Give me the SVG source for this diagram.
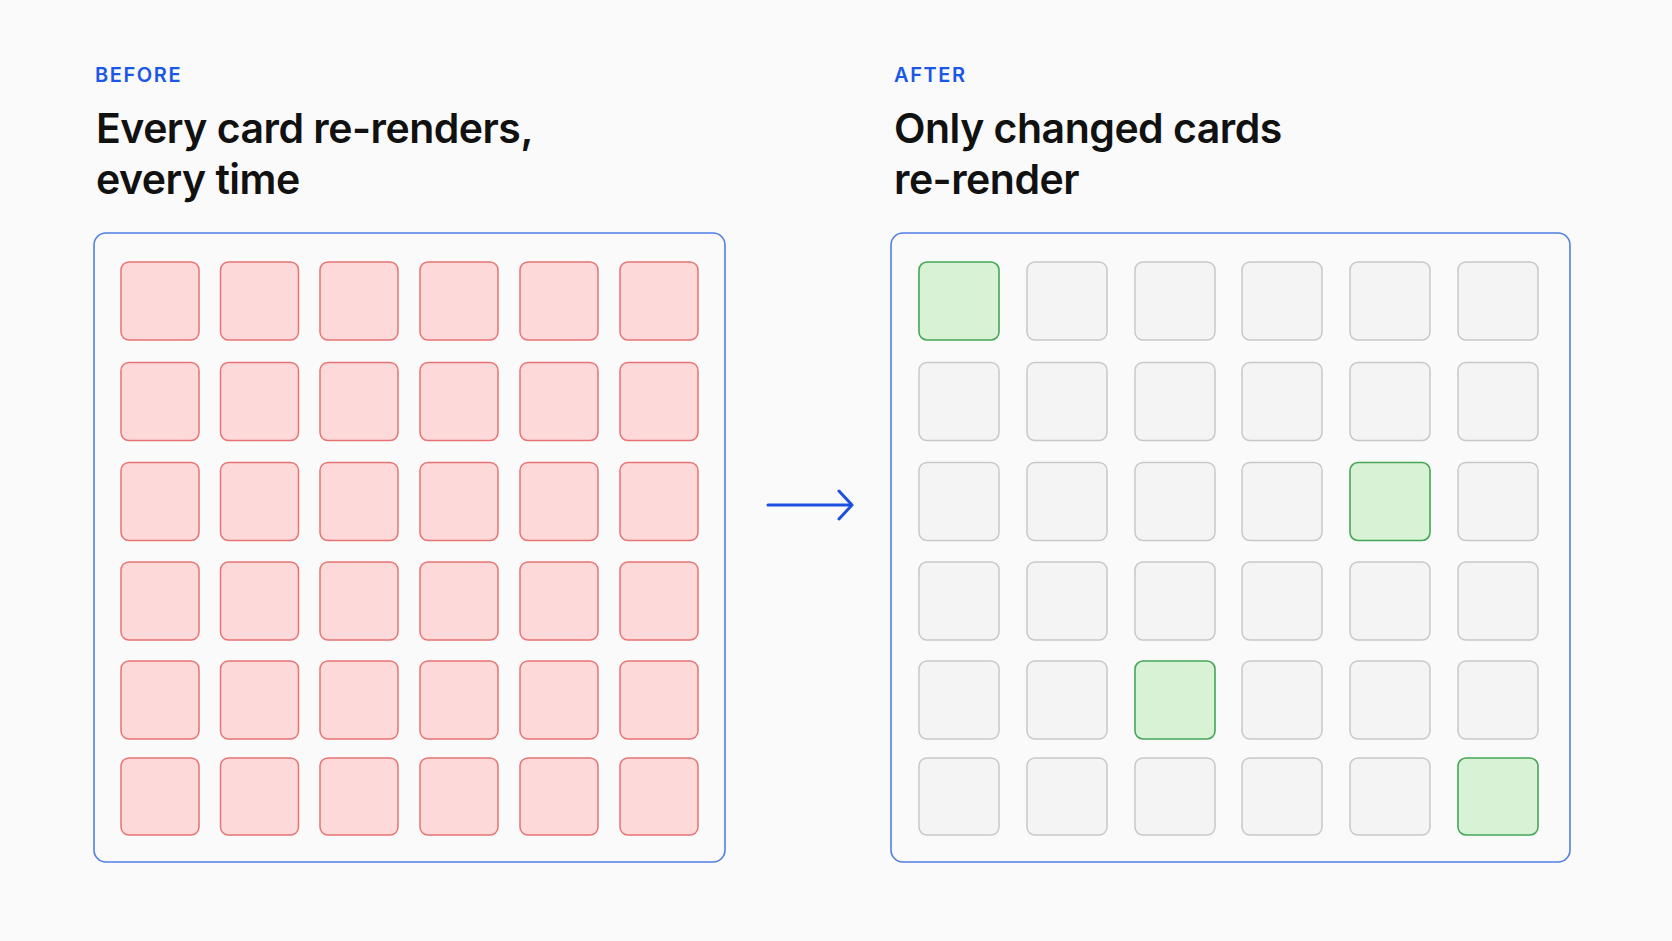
<svg xmlns="http://www.w3.org/2000/svg" width="1672" height="941" viewBox="0 0 1672 941">
<style>
.lbl{font-family:Inter,"Liberation Sans",sans-serif;font-size:20px;font-weight:600;fill:#1a56e8;letter-spacing:1.6px}
.ttl{font-family:Inter,"Liberation Sans",sans-serif;font-size:41px;font-weight:600;fill:#111;letter-spacing:-0.5px}
.panel{fill:#fafafa;stroke:#4f7fe6;stroke-width:1.6}
.r{fill:#fdd9d9;stroke:#e87373;stroke-width:1.5}
.g{fill:#f4f4f4;stroke:#c8c8c8;stroke-width:1.5}
.gr{fill:#d8f2d6;stroke:#46a655;stroke-width:1.6}
</style>
<rect width="1672" height="941" fill="#fafafa"/>
<g id="before-header"><text class="lbl" x="95" y="82">BEFORE</text>
<text class="ttl" x="96" y="143">Every card re-renders,</text><text class="ttl" x="96" y="194">every time</text></g>
<g id="after-header"><text class="lbl" x="894" y="82">AFTER</text>
<text class="ttl" x="894" y="143">Only changed cards</text><text class="ttl" x="894" y="194">re-render</text></g>
<g id="before-panel"><rect class="panel" x="94" y="233" width="631" height="629" rx="12"/>
<g id="before-cards">
<rect class="r" x="121" y="262" width="78" height="78" rx="8"/><rect class="r" x="220.5" y="262" width="78" height="78" rx="8"/><rect class="r" x="320" y="262" width="78" height="78" rx="8"/><rect class="r" x="420" y="262" width="78" height="78" rx="8"/><rect class="r" x="520" y="262" width="78" height="78" rx="8"/><rect class="r" x="620" y="262" width="78" height="78" rx="8"/>
<rect class="r" x="121" y="362.5" width="78" height="78" rx="8"/><rect class="r" x="220.5" y="362.5" width="78" height="78" rx="8"/><rect class="r" x="320" y="362.5" width="78" height="78" rx="8"/><rect class="r" x="420" y="362.5" width="78" height="78" rx="8"/><rect class="r" x="520" y="362.5" width="78" height="78" rx="8"/><rect class="r" x="620" y="362.5" width="78" height="78" rx="8"/>
<rect class="r" x="121" y="462.5" width="78" height="78" rx="8"/><rect class="r" x="220.5" y="462.5" width="78" height="78" rx="8"/><rect class="r" x="320" y="462.5" width="78" height="78" rx="8"/><rect class="r" x="420" y="462.5" width="78" height="78" rx="8"/><rect class="r" x="520" y="462.5" width="78" height="78" rx="8"/><rect class="r" x="620" y="462.5" width="78" height="78" rx="8"/>
<rect class="r" x="121" y="562" width="78" height="78" rx="8"/><rect class="r" x="220.5" y="562" width="78" height="78" rx="8"/><rect class="r" x="320" y="562" width="78" height="78" rx="8"/><rect class="r" x="420" y="562" width="78" height="78" rx="8"/><rect class="r" x="520" y="562" width="78" height="78" rx="8"/><rect class="r" x="620" y="562" width="78" height="78" rx="8"/>
<rect class="r" x="121" y="661" width="78" height="78" rx="8"/><rect class="r" x="220.5" y="661" width="78" height="78" rx="8"/><rect class="r" x="320" y="661" width="78" height="78" rx="8"/><rect class="r" x="420" y="661" width="78" height="78" rx="8"/><rect class="r" x="520" y="661" width="78" height="78" rx="8"/><rect class="r" x="620" y="661" width="78" height="78" rx="8"/>
<rect class="r" x="121" y="758" width="78" height="77" rx="8"/><rect class="r" x="220.5" y="758" width="78" height="77" rx="8"/><rect class="r" x="320" y="758" width="78" height="77" rx="8"/><rect class="r" x="420" y="758" width="78" height="77" rx="8"/><rect class="r" x="520" y="758" width="78" height="77" rx="8"/><rect class="r" x="620" y="758" width="78" height="77" rx="8"/>
</g></g>
<g id="after-panel"><rect class="panel" x="891" y="233" width="679" height="629" rx="12"/>
<g id="after-cards">
<rect class="gr" x="919" y="262" width="80" height="78" rx="8"/><rect class="g" x="1027" y="262" width="80" height="78" rx="8"/><rect class="g" x="1135" y="262" width="80" height="78" rx="8"/><rect class="g" x="1242" y="262" width="80" height="78" rx="8"/><rect class="g" x="1350" y="262" width="80" height="78" rx="8"/><rect class="g" x="1458" y="262" width="80" height="78" rx="8"/>
<rect class="g" x="919" y="362.5" width="80" height="78" rx="8"/><rect class="g" x="1027" y="362.5" width="80" height="78" rx="8"/><rect class="g" x="1135" y="362.5" width="80" height="78" rx="8"/><rect class="g" x="1242" y="362.5" width="80" height="78" rx="8"/><rect class="g" x="1350" y="362.5" width="80" height="78" rx="8"/><rect class="g" x="1458" y="362.5" width="80" height="78" rx="8"/>
<rect class="g" x="919" y="462.5" width="80" height="78" rx="8"/><rect class="g" x="1027" y="462.5" width="80" height="78" rx="8"/><rect class="g" x="1135" y="462.5" width="80" height="78" rx="8"/><rect class="g" x="1242" y="462.5" width="80" height="78" rx="8"/><rect class="gr" x="1350" y="462.5" width="80" height="78" rx="8"/><rect class="g" x="1458" y="462.5" width="80" height="78" rx="8"/>
<rect class="g" x="919" y="562" width="80" height="78" rx="8"/><rect class="g" x="1027" y="562" width="80" height="78" rx="8"/><rect class="g" x="1135" y="562" width="80" height="78" rx="8"/><rect class="g" x="1242" y="562" width="80" height="78" rx="8"/><rect class="g" x="1350" y="562" width="80" height="78" rx="8"/><rect class="g" x="1458" y="562" width="80" height="78" rx="8"/>
<rect class="g" x="919" y="661" width="80" height="78" rx="8"/><rect class="g" x="1027" y="661" width="80" height="78" rx="8"/><rect class="gr" x="1135" y="661" width="80" height="78" rx="8"/><rect class="g" x="1242" y="661" width="80" height="78" rx="8"/><rect class="g" x="1350" y="661" width="80" height="78" rx="8"/><rect class="g" x="1458" y="661" width="80" height="78" rx="8"/>
<rect class="g" x="919" y="758" width="80" height="77" rx="8"/><rect class="g" x="1027" y="758" width="80" height="77" rx="8"/><rect class="g" x="1135" y="758" width="80" height="77" rx="8"/><rect class="g" x="1242" y="758" width="80" height="77" rx="8"/><rect class="g" x="1350" y="758" width="80" height="77" rx="8"/><rect class="gr" x="1458" y="758" width="80" height="77" rx="8"/>
</g></g>
<g id="connectors" fill="none" stroke="#1a4fe0" stroke-width="3" stroke-linecap="round" stroke-linejoin="round">
<path d="M768 505 H851"/><path d="M839 491 L852 505 L839 519"/>
</g>
</svg>
